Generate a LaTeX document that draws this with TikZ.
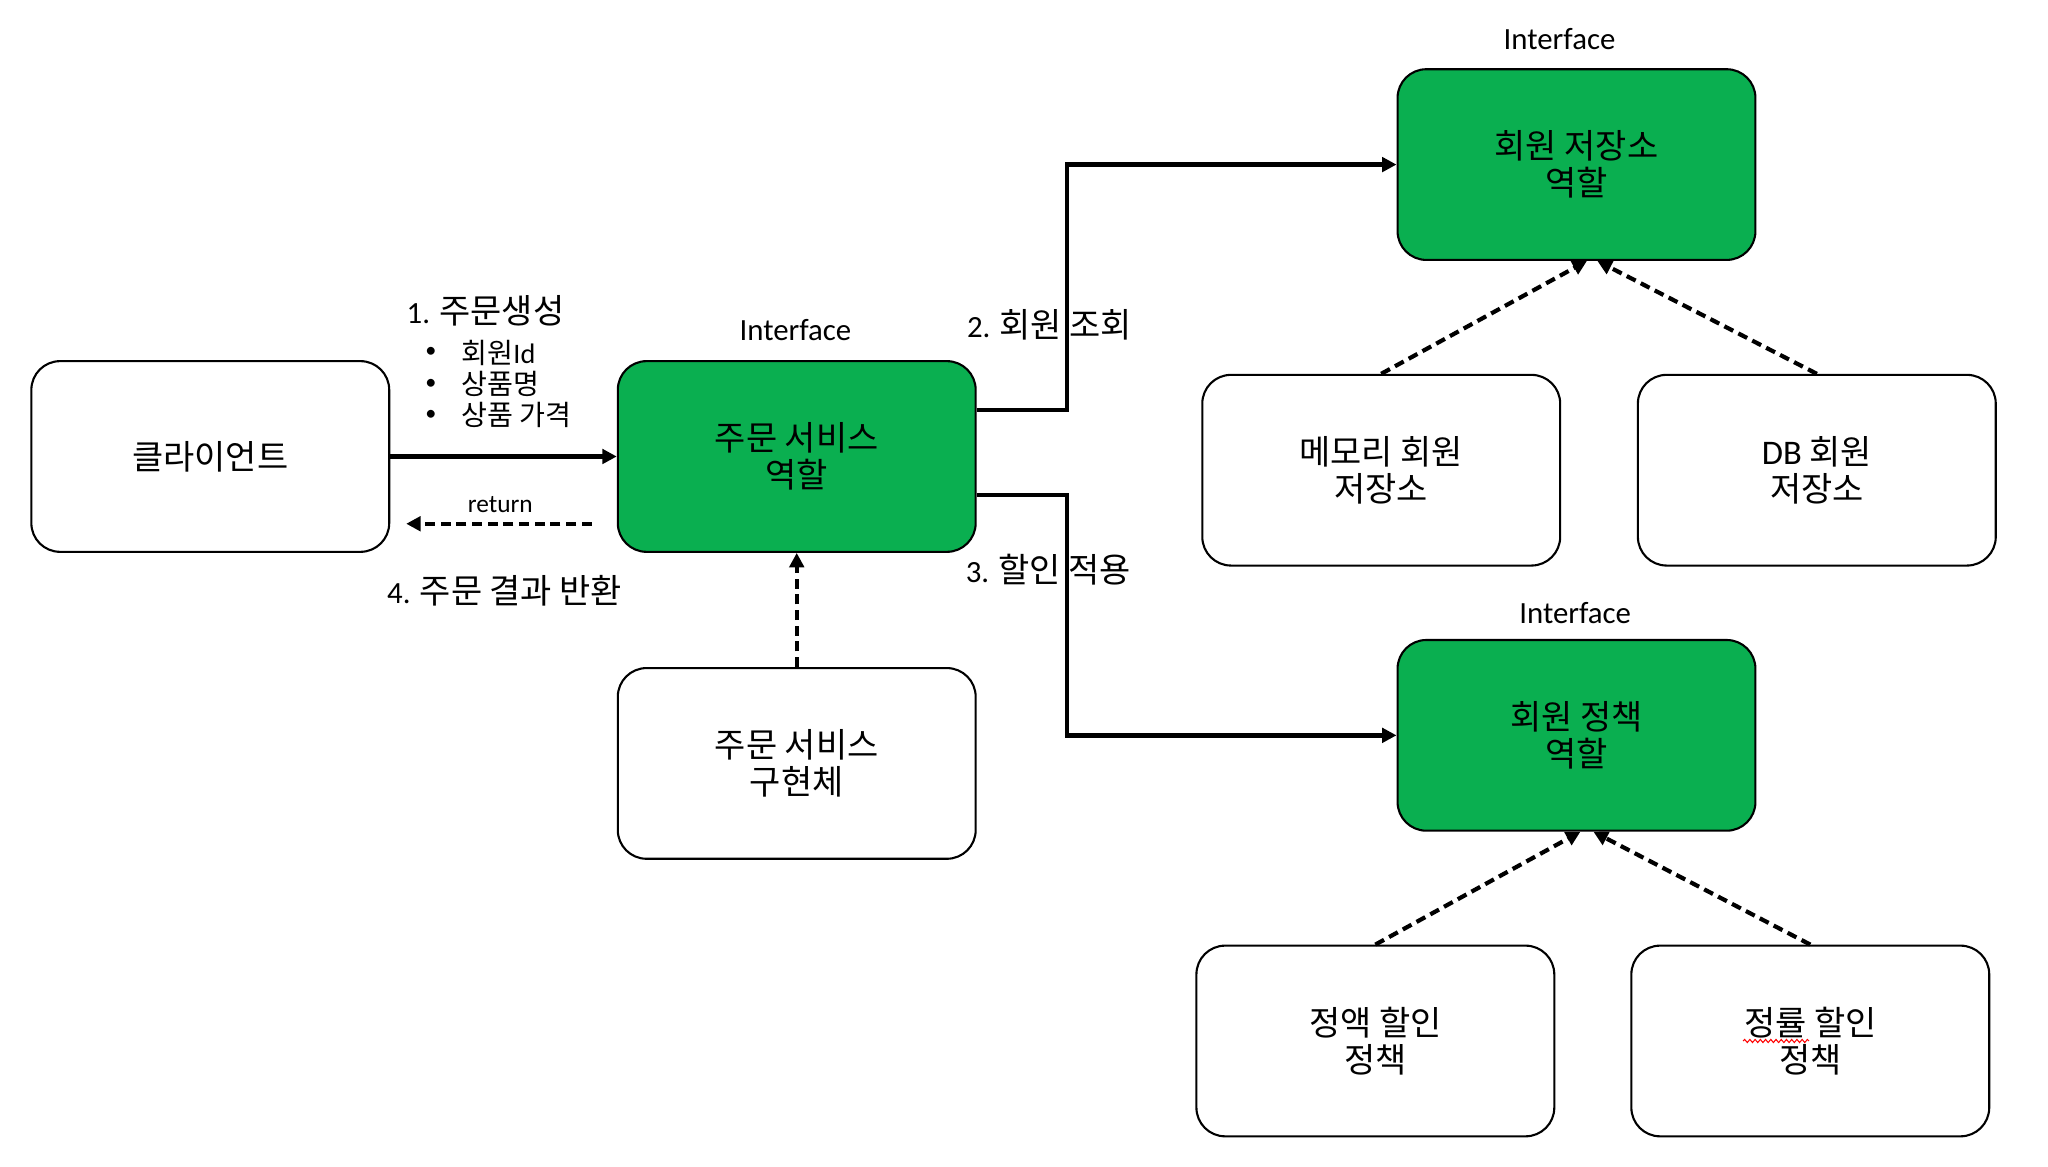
\documentclass[tikz,border=0pt]{standalone}
\usepackage{fontspec}
\setmainfont{Carlito}
\newfontfamily\kr[Scale=1.1]{Noto Sans CJK KR}
\usetikzlibrary{arrows.meta,decorations.pathmorphing}
\definecolor{rolegreen}{RGB}{10,175,80}
\begin{document}
\begin{tikzpicture}[x=0.5pt,y=-0.5pt,
  box/.style={draw, line width=0.8pt, rounded corners=11pt, minimum width=137pt,
    minimum height=73pt, align=center, inner sep=0pt,
    font=\kr\fontsize{11.8}{14}\selectfont},
  role/.style={box, fill=rolegreen},
  impl/.style={box, fill=white},
  tipA/.style={-{Triangle[length=5.5pt,width=5.5pt]}},
  conn/.style={line width=1.7pt, tipA},
  dconn/.style={line width=1.6pt, dash pattern=on 3.8pt off 2.2pt, tipA},
  lbl/.style={inner sep=0pt, font=\fontsize{11.8}{14}\selectfont},
  small/.style={inner sep=0pt, font=\kr\fontsize{9.8}{12}\selectfont},
  ]
\path[use as bounding box] (0,0) rectangle (1568,892.8);

% boxes
\node[impl] (client) at (161,349.5) {클라이언트};
\node[role] (order) at (610,349.5) {주문 서비스\\역할};
\node[impl] (orderimpl) at (610,584.5) {주문 서비스\\구현체};
\node[role] (repo) at (1207,126) {회원 저장소\\역할};
\node[impl] (mem) at (1057.5,360) {메모리 회원\\저장소};
\node[impl] (db) at (1391,360) {{\rmfamily\fontsize{13.2}{14}\selectfont DB} 회원\\저장소};
\node[role] (policy) at (1207,563) {회원 정책\\역할};
\node[impl] (fixed) at (1053,797) {정액 할인\\정책};
\node[impl] (rate) at (1386,797) {정률 할인\\정책};

% interface labels
\node[lbl] (ifOrder) at (609,253) {Interface};
\node[lbl] (ifRepo) at (1194,30) {Interface};
\node[lbl] (ifPolicy) at (1206,469) {Interface};

% step labels
\node[lbl, anchor=west] (s1) at (311,238) {1. {\kr 주문생성}};
\node[inner sep=0pt, font=\fontsize{8.5}{12}\selectfont] (d1) at (330,270) {•};
\node[inner sep=0pt, font=\fontsize{8.5}{12}\selectfont] (d2) at (330,294) {•};
\node[inner sep=0pt, font=\fontsize{8.5}{12}\selectfont] (d3) at (330,318) {•};
\node[small, anchor=west] (b1) at (353,270) {회원{\rmfamily\fontsize{10.8}{12}\selectfont Id}};
\node[small, anchor=west] (b2) at (353,294) {상품명};
\node[small, anchor=west] (b3) at (353,318) {상품 가격};
\node[inner sep=0pt, font=\fontsize{9.7}{12}\selectfont] (ret) at (383,386) {return};
\node[lbl, anchor=west] (s4) at (296,452) {4. {\kr 주문 결과 반환}};
\node[lbl, anchor=west] (s2) at (740,249) {2. {\kr 회원 조회}};
\node[lbl, anchor=west] (s3) at (739,436) {3. {\kr 할인 적용}};

% connectors
\coordinate (retS) at (453,401);
\coordinate (retE) at (311,401);
\draw[conn] (client.east) -- (order.west);
\draw[dconn] (retS) -- (retE);
\draw[dconn] (orderimpl.north) -- (order.south);
\draw[conn] ([yshift=17.75pt]order.east) -- ++(69,0) |- (repo.west);
\draw[conn] ([yshift=-14.75pt]order.east) -- ++(69,0) |- (policy.west);
\draw[dconn] (mem.north) -- ([xshift=4pt]repo.south);
\draw[dconn] (db.north) -- ([xshift=8pt]repo.south);
\draw[dconn] (fixed.north) -- ([xshift=1.5pt]policy.south);
\draw[dconn] (rate.north) -- ([xshift=6.5pt]policy.south);

% spell-check underline
\draw[red, line width=0.4pt, decorate, decoration={snake, amplitude=0.6pt, segment length=2pt}]
  (1334.5,797) -- (1385,797);
\end{tikzpicture}
\end{document}
